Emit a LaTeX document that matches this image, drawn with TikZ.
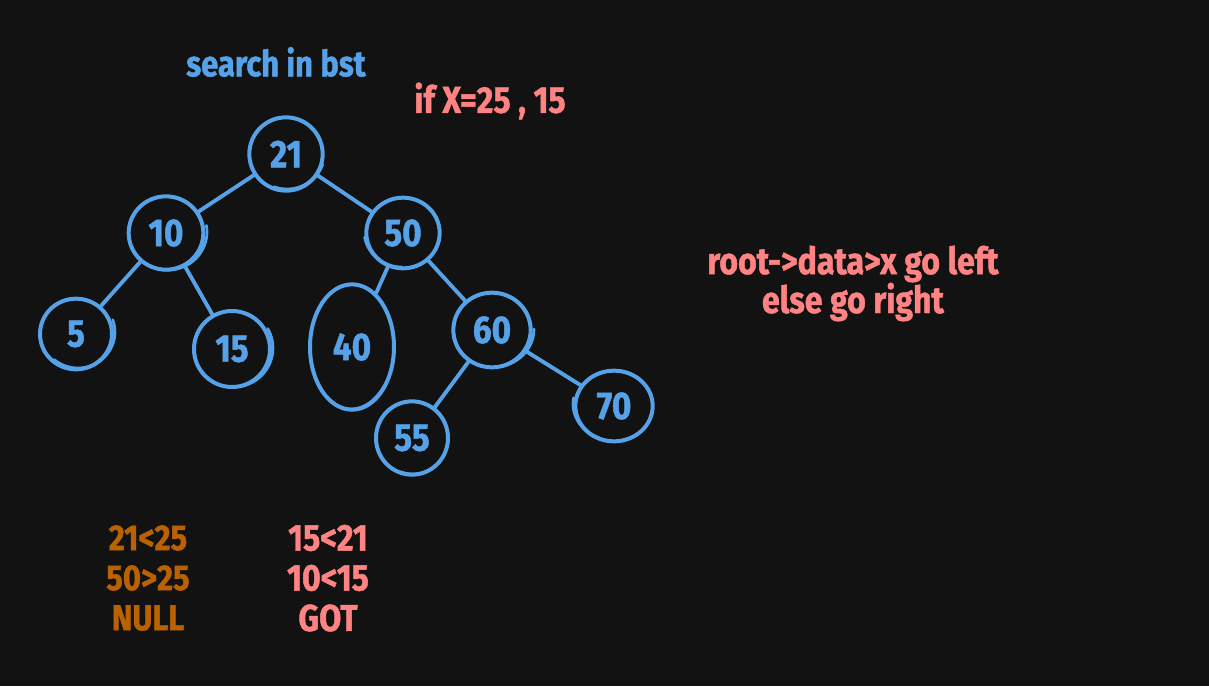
\documentclass[tikz,border=0pt]{standalone}
\usepackage{fontspec}
\setmainfont{Fira Sans}[FakeStretch=0.86, BoldFeatures={FakeBold=1.2}]
\usetikzlibrary{shapes.geometric}
\definecolor{bg}{HTML}{121212}
\definecolor{myblue}{HTML}{56A2E8}
\definecolor{mypink}{HTML}{FF8383}
\definecolor{myorange}{HTML}{BA6200}
\tikzset{
  bnode/.style={ellipse, draw=myblue, line width=3pt, inner sep=0pt, text=myblue,
    font=\fontsize{29}{32}\selectfont\bfseries},
  edge/.style={draw=myblue, line width=2.9pt, line cap=round},
  sk/.style={draw=myblue, line width=2pt, line cap=round},
  ptext/.style={text=mypink, font=\fontsize{28}{30}\selectfont\bfseries},
  otext/.style={text=myorange, font=\fontsize{27}{30}\selectfont\bfseries},
  btext/.style={text=myblue, font=\fontsize{27}{30}\selectfont\bfseries},
}
\begin{document}
\begin{tikzpicture}[x=0.75pt,y=-0.75pt]
\fill[bg] (0,0) rectangle (1209,686);
\useasboundingbox (0,0) rectangle (1209,686);

\node[btext] (title) at (276,62) {search in bst};
\node[ptext] (ifx) at (490,101) {if X=25 , 15};

\node[bnode, minimum width=55pt, minimum height=55pt] (n21) at (286,154) {21};
\node[bnode, minimum width=56pt, minimum height=55pt] (n10) at (166,233) {10};
\node[bnode, minimum width=55pt, minimum height=53pt] (n50) at (403,233) {50};
\node[bnode, minimum width=54pt, minimum height=53pt] (n5) at (76,334) {5};
\node[bnode, minimum width=57pt, minimum height=57pt] (n15) at (232,349) {15};
\node[bnode, minimum width=63pt, minimum height=94pt] (n40) at (352,347) {40};
\node[bnode, minimum width=58pt, minimum height=56pt] (n60) at (492,330) {60};
\node[bnode, minimum width=54pt, minimum height=55pt] (n55) at (412,438) {55};
\node[bnode, minimum width=58pt, minimum height=53pt] (n70) at (614,406) {70};

% sketchy second strokes
\draw[sk] ([shift={(1,-2)}]n21.center) ++(110:38 and 37) arc[start angle=110, end angle=20, x radius=38, y radius=37];
\draw[sk] ([shift={(2,-1)}]n10.center) ++(120:39 and 38) arc[start angle=120, end angle=-10, x radius=39, y radius=38];
\draw[sk] ([shift={(-1,-2)}]n50.center) ++(170:38 and 36) arc[start angle=170, end angle=90, x radius=38, y radius=36];
\draw[sk] ([shift={(2,-2)}]n5.center) ++(130:37 and 36) arc[start angle=130, end angle=-20, x radius=37, y radius=36];
\draw[sk] ([shift={(2,-1)}]n15.center) ++(100:39 and 39) arc[start angle=100, end angle=-30, x radius=39, y radius=39];
\draw[sk] ([shift={(-1,-2)}]n40.center) ++(120:43 and 64) arc[start angle=120, end angle=40, x radius=43, y radius=64];
\draw[sk] ([shift={(2,-1)}]n60.center) ++(80:40 and 38) arc[start angle=80, end angle=0, x radius=40, y radius=38];
\draw[sk] ([shift={(1,-2)}]n55.center) ++(110:37 and 38) arc[start angle=110, end angle=60, x radius=37, y radius=38];
\draw[sk] ([shift={(-1,-2)}]n70.center) ++(110:40 and 36) arc[start angle=110, end angle=190, x radius=40, y radius=36];

\draw[edge] (n21) -- (n10);
\draw[edge] (n21) -- (n50);
\draw[edge] (n10) -- (n5);
\draw[edge] (n10) -- (n15);
\draw[edge] (n50) -- (n40);
\draw[edge] (n50) -- (n60);
\draw[edge] (n60) -- (n55);
\draw[edge] (n60) -- (n70);

\node[ptext] (rule1) at (853,264) {root->data>x go left};
\node[ptext] (rule2) at (853,302) {else go right};

\node[otext] (a1) at (148,538) {21<25};
\node[otext] (a2) at (148,578) {50>25};
\node[otext] (a3) at (148,618) {NULL};
\node[ptext] (b1) at (328,538) {15<21};
\node[ptext] (b2) at (328,578) {10<15};
\node[ptext] (b3) at (328,618) {GOT};
\end{tikzpicture}
\end{document}
